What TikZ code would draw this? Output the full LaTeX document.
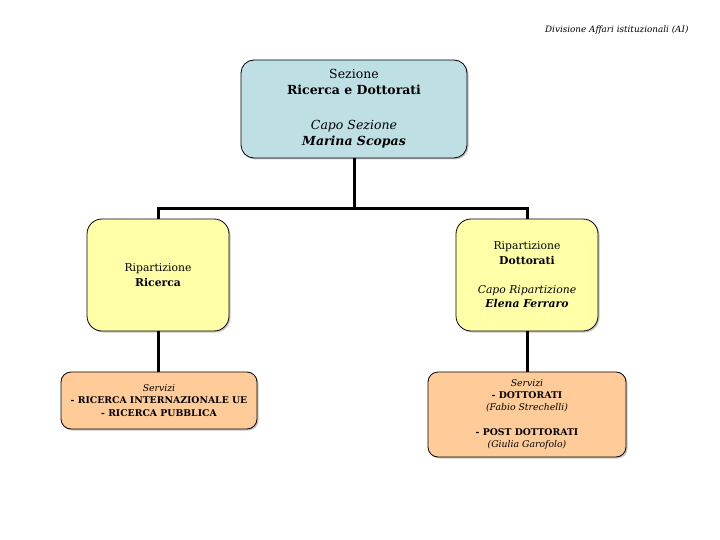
\documentclass[tikz,border=0pt]{standalone}
\usepackage{fontspec}
\setmainfont{DejaVu Serif}
\usepackage{tikz}
\usetikzlibrary{shadows,positioning}

\definecolor{sezcolor}{HTML}{BEE0E4}
\definecolor{ripcolor}{HTML}{FFFFA8}
\definecolor{servcolor}{HTML}{FFCC99}

\tikzset{
  orgbox/.style={draw=black,line width=0.8pt,align=center,inner sep=0pt,
    drop shadow={shadow xshift=1.5pt,shadow yshift=-1.5pt,fill=black!45}},
  sezbox/.style={orgbox,fill=sezcolor,rounded corners=13pt,
    minimum width=226pt,minimum height=98pt,font=\fontsize{12.5}{16}\selectfont},
  ripbox/.style={orgbox,fill=ripcolor,rounded corners=15pt,
    minimum width=142pt,minimum height=112pt,font=\fontsize{10.8}{14.5}\selectfont},
  servbox/.style={orgbox,fill=servcolor,rounded corners=10pt,
    minimum height=57pt,font=\fontsize{9.3}{12.2}\selectfont},
  conn/.style={line width=3pt,black}
}

\begin{document}
\begin{tikzpicture}[x=1pt,y=-1pt]
    \useasboundingbox (0,0) rectangle (720,540);

    \node[anchor=east,font=\fontsize{8.8}{10}\selectfont\itshape] (div) at (692,30) {Divisione Affari istituzionali (AI)};

    \node[sezbox] (sez) at (354,109) {Sezione\\\textbf{Ricerca e Dottorati}\\[19pt]\textit{Capo Sezione}\\\textbf{\textit{Marina Scopas}}};

    \node[ripbox] (ricerca) at (158,275) {Ripartizione\\\textbf{Ricerca}};
    \node[ripbox] (dottorati) at (527,275) {Ripartizione\\\textbf{Dottorati}\\[14.5pt]\textit{Capo Ripartizione}\\\textbf{\textit{Elena Ferraro}}};

    \node[servbox,minimum width=196pt] (servric) at (159,400.5) {\textit{Servizi}\\\textbf{- RICERCA INTERNAZIONALE UE}\\\textbf{- RICERCA PUBBLICA}};
    \node[servbox,minimum width=198pt,minimum height=85pt] (servdott) at (527,414.5) {\textit{Servizi}\\\textbf{- DOTTORATI}\\\textit{(Fabio Strechelli)}\\[12.2pt]\textbf{- POST DOTTORATI}\\\textit{(Giulia Garofolo)}};

    % connectors
    \coordinate (jn) at (354,209);
    \draw[conn] (sez.south) -- (jn);
    \draw[conn] (jn) -| (ricerca.north);
    \draw[conn] (jn) -| (dottorati.north);
    \draw[conn] (ricerca.south) -- (ricerca.south |- servric.north);
    \draw[conn] (dottorati.south) -- (servdott.north);

\end{tikzpicture}
\end{document}
